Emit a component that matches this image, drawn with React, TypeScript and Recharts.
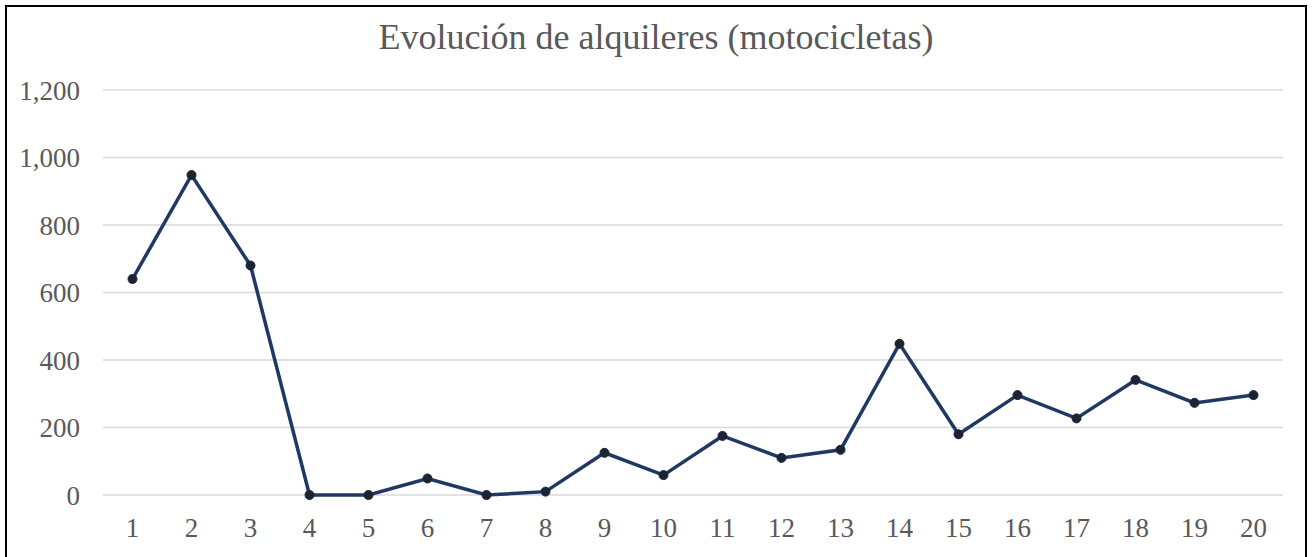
import { CartesianGrid, Line, LineChart, XAxis, YAxis } from "recharts";

const TITLE = "Evolución de alquileres (motocicletas)";
const periods = ["1", "2", "3", "4", "5", "6", "7", "8", "9", "10", "11", "12", "13", "14", "15", "16", "17", "18", "19", "20"];
const rentals = [640, 948, 680, 0, 0, 49, 0, 10, 125, 59, 175, 110, 134, 448, 180, 296, 227, 341, 273, 296];
const yTicks = [0, 200, 400, 600, 800, 1000, 1200];

const FONT = "Liberation Serif, Times New Roman, serif";
const TEXT = "#595959";
const AXIS = { fontSize: 27, fill: TEXT, fontFamily: FONT };

const data = periods.map((p, i) => ({ period: p, value: rentals[i] }));

export default function App() {
  return (
    <div style={{ position: "fixed", left: 0, top: 0, width: 1312, height: 557, background: "#fff", overflow: "hidden", fontFamily: FONT }}>
      <div
        style={{
          position: "absolute",
          left: 5,
          top: 5,
          width: 1298,
          height: 600,
          border: "2.5px solid #000",
        }}
      />
      <div
        style={{
          position: "absolute",
          left: 6,
          width: 1300,
          top: 13,
          textAlign: "center",
          fontFamily: FONT,
          fontSize: 36,
          color: TEXT,
          lineHeight: "48px",
        }}
      >
        {TITLE}
      </div>
      <div style={{ position: "absolute", left: 0, top: 0 }}>
        <LineChart width={1312} height={557} data={data} margin={{ top: 90, right: 29, bottom: 32, left: 0 }}>
          <CartesianGrid stroke="#d9d9d9" strokeWidth={1.3} vertical={false} />
          <XAxis
            dataKey="period"
            tick={AXIS}
            tickLine={false}
            axisLine={false}
            tickMargin={17}
            padding={{ left: 29.5, right: 29.5 }}
            interval={0}
          />
          <YAxis
            width={103}
            domain={[0, 1200]}
            ticks={yTicks}
            tick={AXIS}
            tickLine={false}
            axisLine={false}
            tickMargin={17}
            tickFormatter={(v: number) => v.toLocaleString("en-US")}
          />
          <Line
            type="linear"
            dataKey="value"
            stroke="#203864"
            strokeWidth={3.5}
            dot={{ r: 4.5, fill: "#1c2433", stroke: "#1c2433", strokeWidth: 1 }}
            isAnimationActive={false}
          />
        </LineChart>
      </div>
    </div>
  );
}
